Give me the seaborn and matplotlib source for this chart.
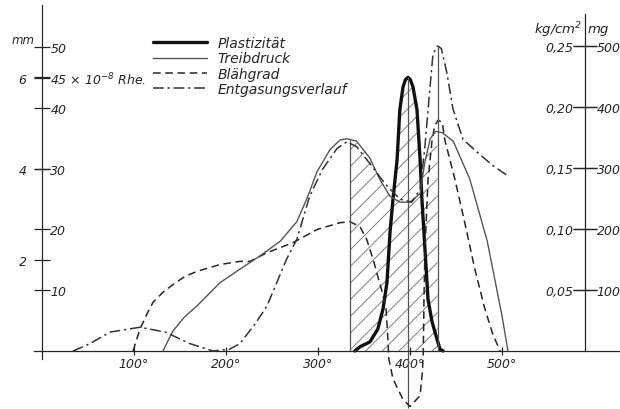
import numpy as np
import matplotlib
matplotlib.use("Agg")
import matplotlib.pyplot as plt
import seaborn as sns

# Plastizität (x 10^-8 Rhe.) over temperature (°C)
plast_t = [340, 345.7, 356.5, 365, 370.7, 375, 378.3, 381.5, 386, 389, 392.4, 395, 397.8,
           400.5, 403.3, 407.6, 411, 413, 416.3, 419.6, 424, 429.3, 432.6, 436]
plast_v = [0, 0.7, 1.5, 3.6, 6.9, 11.3, 19.5, 24.9, 31.5, 39.7, 43.4, 44.6, 45.0,
           44.6, 43.4, 39.7, 31.5, 24.9, 16.7, 8.5, 4.8, 2.0, 0.3, 0]

# Treibdruck (kg/cm2)
treib_t = [131.5, 142, 155, 168.5, 193.5, 215, 237, 259, 277, 288, 299, 313, 324, 331.5,
           342, 356.5, 367, 378, 389, 400, 411, 416, 422, 428, 435, 447, 465, 484, 500, 506.5]
treib_v = [0, 0.016, 0.028, 0.037, 0.056, 0.067, 0.078, 0.090, 0.106, 0.125, 0.147, 0.165,
           0.173, 0.174, 0.172, 0.158, 0.141, 0.127, 0.122, 0.122, 0.129, 0.154, 0.174,
           0.180, 0.179, 0.172, 0.141, 0.090, 0.029, 0]

# Blähgrad (mm)
blah_t = [99, 103, 106.5, 114, 120.7, 131.5, 142.4, 155.4, 168.5, 193.5, 215, 226, 244.6,
          272.8, 299, 324, 335, 345.7, 353, 360, 365, 369.6, 374, 376, 377, 381.5, 392,
          400, 411, 413.5, 414.5, 415.2, 416.3, 419.6, 424, 427, 430.5, 435, 438, 449,
          460, 470.6, 481.5, 490, 498]
blah_v = [0, 0.26, 0.48, 0.81, 1.07, 1.29, 1.46, 1.64, 1.75, 1.90, 1.97, 1.97, 2.16,
          2.38, 2.67, 2.82, 2.84, 2.73, 2.45, 2.01, 1.64, 1.31, 0.92, 0.26, -0.17, -0.61,
          -1.05, -1.22, -0.98, -0.46, 0, 1.14, 2.23, 3.76, 4.63, 4.96, 5.07, 5.03, 4.63,
          3.76, 2.78, 1.79, 0.92, 0.37, 0]

# Entgasungsverlauf (mg)
gas_t = [33.7, 52, 74, 106.5, 134, 161, 186, 204, 215, 232, 244.6, 266, 277, 291, 305,
         320.7, 331.5, 342, 356.5, 373, 389, 402, 411, 416, 420.7, 425, 430, 434, 440,
         446.7, 457.6, 473, 490, 506.5]
gas_v = [0, 12, 31, 39, 31, 12, 0, 3, 12, 45, 74, 151, 183, 254, 298, 332, 343, 335, 307,
         274, 249, 244, 265, 331, 414, 487, 500, 496, 457, 397, 347, 326, 304, 287]

names = ['Plastizität', 'Treibdruck', 'Blähgrad', 'Entgasungsverlauf']

x_ticks = [100, 200, 300, 400, 500]
x_labels = ['100°', '200°', '300°', '400°', '500°']
rhe_ticks = [10, 20, 30, 40, 45, 50]
rhe_labels = ['10', '20', '30', '40', '45 × 10$^{-8}$ Rhe.', '50']
mm_ticks = [2, 4, 6]
kg_ticks = [0.05, 0.10, 0.15, 0.20, 0.25]
kg_labels = ['0,05', '0,10', '0,15', '0,20', '0,25']
mg_ticks = [100, 200, 300, 400, 500]

# marked temperatures (vertical guide lines)
t_left, t_plast, t_gas = 335, 397.8, 430
t_right_axis = 590

sns.set_style('ticks')
plt.rcParams['font.family'] = ['DejaVu Sans']
plt.rcParams['font.style'] = 'italic'
plt.rcParams['mathtext.default'] = 'it'
plt.rcParams['hatch.linewidth'] = 0.7

ink = '#262626'
grey = '#555555'

fig = plt.figure(figsize=(6.2, 4.1), dpi=100)
ax = fig.add_axes([0, 0, 1, 1])
ax_mm = ax.twinx()
ax_kg = ax.twinx()
ax_mg = ax.twinx()

ax.set_xlim(-45.65, 628.3)
ax.set_ylim(-9.54, 57.89)
ax_mm.set_ylim(-1.275, 7.736)
ax_kg.set_ylim(-0.04754, 0.28852)
ax_mg.set_ylim(-95.08, 577.05)

for a in (ax, ax_mm, ax_kg, ax_mg):
    for s in a.spines.values():
        s.set_visible(False)
        s.set_color(ink)
        s.set_linewidth(0.9)
    a.patch.set_visible(False)

# hatched area under the upper envelope
ratio = np.ptp(ax.get_ylim()) / np.ptp(ax_kg.get_ylim())
grid = np.linspace(t_left, t_gas, 400)
env = np.maximum(np.interp(grid, treib_t, treib_v) * ratio, np.interp(grid, plast_t, plast_v))
ax.fill_between(grid, 0, env, facecolor='none', edgecolor='#808080', hatch='//', lw=0)

# curves
sns.lineplot(x=treib_t, y=treib_v, ax=ax_kg, color=grey, lw=1.0, estimator=None, sort=False)
l_treib = ax_kg.lines[-1]
sns.lineplot(x=blah_t, y=blah_v, ax=ax_mm, color=ink, lw=1.1, estimator=None, sort=False,
             linestyle=(0, (5, 3)))
l_blah = ax_mm.lines[-1]
sns.lineplot(x=gas_t, y=gas_v, ax=ax_mg, color='#333333', lw=1.1, estimator=None, sort=False,
             linestyle=(0, (7, 2.5, 1.5, 2.5)))
l_gas = ax_mg.lines[-1]
sns.lineplot(x=plast_t, y=plast_v, ax=ax, color='#111111', lw=2.4, estimator=None, sort=False)
l_plast = ax.lines[-1]

# guide lines
ax_kg.vlines(t_left, 0, np.interp(t_left, treib_t, treib_v), color=grey, lw=0.9)
ax.vlines(t_plast, -9.3, max(plast_v), color=grey, lw=0.9)
ax_mg.vlines(t_gas, 0, max(gas_v), color=grey, lw=0.9)

# x axis
ax.spines['bottom'].set_visible(True)
ax.spines['bottom'].set_position(('data', 0))
ax.spines['bottom'].set_bounds(-9, 628.3)
ax.set_xticks(x_ticks)
ax.set_xticklabels(x_labels)
ax.tick_params(axis='x', direction='inout', length=6, width=0.9, color=ink,
               labelsize=9, pad=1, labelcolor=ink)

# left axis: Rhe inside, mm outside
ax.yaxis.set_ticks_position('right')
ax.spines['right'].set_visible(True)
ax.spines['right'].set_position(('data', 0))
ax.spines['right'].set_bounds(-1.3, 56.9)
ax.set_yticks(rhe_ticks)
ax.set_yticklabels(rhe_labels)
ax.tick_params(axis='y', direction='inout', length=12, width=0.9, color=ink,
               labelsize=9, pad=0, labelcolor=ink)

ax_mm.yaxis.set_ticks_position('left')
ax_mm.spines['left'].set_position(('data', 0))
ax_mm.set_yticks(mm_ticks)
ax_mm.tick_params(axis='y', direction='inout', length=12, width=0.9, color=ink,
                  labelsize=9, pad=5, labelcolor=ink)

# right axis: kg/cm2 left of it, mg right of it
ax_kg.yaxis.set_ticks_position('left')
ax_kg.spines['left'].set_position(('data', t_right_axis))
ax_kg.set_yticks(kg_ticks)
ax_kg.set_yticklabels(kg_labels)
ax_kg.tick_params(axis='y', direction='inout', length=17, width=0.9, color=ink,
                  labelsize=9, pad=0, labelcolor=ink)

ax_mg.yaxis.set_ticks_position('right')
ax_mg.spines['right'].set_visible(True)
ax_mg.spines['right'].set_position(('data', t_right_axis))
ax_mg.spines['right'].set_bounds(0, 552)
ax_mg.set_yticks(mg_ticks)
ax_mg.tick_params(axis='y', direction='inout', length=17, width=0.9, color=ink,
                  labelsize=9, pad=0, labelcolor=ink)

# unit labels
fig.text(12 / 620, 1 - 40 / 410, 'mm', fontsize=8.5, va='center', color=ink)
fig.text(582 / 620, 1 - 30 / 410, 'kg/cm$^2$', fontsize=9.5, va='center', ha='right', color=ink)
fig.text(588 / 620, 1 - 30 / 410, 'mg', fontsize=9.5, va='center', color=ink)

ax_mg.legend([l_plast, l_treib, l_blah, l_gas], names, loc='upper left',
             bbox_to_anchor=(153 / 620, 1 - 37 / 410), frameon=False, fontsize=10,
             handlelength=3.9, handletextpad=0.75, labelspacing=0.1, borderpad=0,
             borderaxespad=0, labelcolor=ink)

fig.savefig('out.png', dpi=100)
